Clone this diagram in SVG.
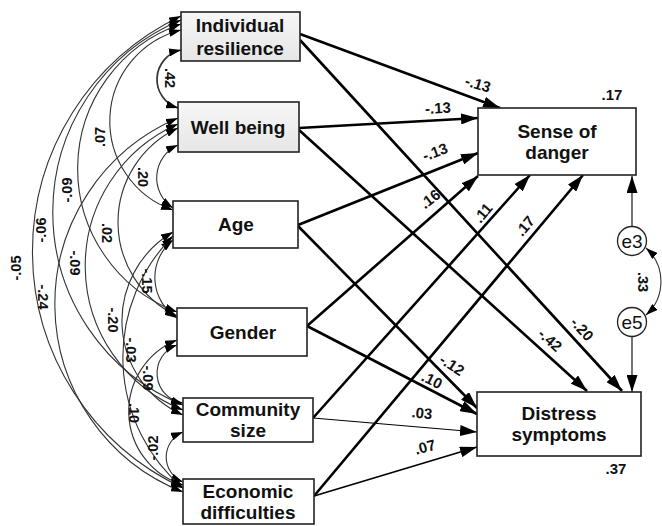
<svg xmlns="http://www.w3.org/2000/svg" width="662" height="526" viewBox="0 0 662 526">
<style>
.box{fill:#fff;stroke:#222;stroke-width:1.6}
.shade{fill:url(#g)}
.nt{font-family:"Liberation Sans",Arial,sans-serif;font-weight:bold;font-size:19px;fill:#111;text-anchor:middle}
.et{font-family:"Liberation Sans",Arial,sans-serif;font-size:19px;fill:#111;text-anchor:middle}
.cov{fill:none;stroke:#333;stroke-width:1.1;marker-start:url(#sa);marker-end:url(#sa)}
.pth{fill:none;stroke:#000;stroke-width:2.6;marker-end:url(#ba)}
.thin{stroke-width:1.1}
.mid{stroke-width:1.7}
.lb{font-family:"Liberation Sans",Arial,sans-serif;font-weight:bold;font-size:15px;fill:#111;text-anchor:middle}
.lc{font-family:"Liberation Sans",Arial,sans-serif;font-weight:bold;font-size:14.5px;fill:#111;text-anchor:middle}
</style>
<defs>
<linearGradient id="g" x1="0" y1="0" x2="0" y2="1"><stop offset="0" stop-color="#f6f6f6"/><stop offset="1" stop-color="#e6e6e6"/></linearGradient>
<marker id="sa" markerUnits="userSpaceOnUse" markerWidth="12" markerHeight="8" refX="12" refY="4" orient="auto-start-reverse"><path d="M0,0 L12,4 L0,8 z" fill="#000"/></marker>
<marker id="ba" markerUnits="userSpaceOnUse" markerWidth="17" markerHeight="11" refX="17" refY="5.5" orient="auto"><path d="M0,0 L17,5.5 L0,11 z" fill="#000"/></marker>
</defs>
<rect width="662" height="526" fill="#fff"/>
<g id="connectors">
<path class="cov" style="stroke-width:1.7" d="M181,50 A30,30 0 0 0 178,108"/>
<path class="cov" d="M178,145 A36,36 0 0 0 173,208"/>
<path class="cov" d="M173,240 A48,48 0 0 0 177,318"/>
<path class="cov" d="M177,345 A30,30 0 0 0 183,403"/>
<path class="cov" d="M183,432 A27,27 0 0 0 183,482"/>
<path class="cov" d="M181,30 A94,94 0 0 0 173,210"/>
<path class="cov" d="M178,128 A104,104 0 0 0 177,316"/>
<path class="cov" d="M173,232 A103,103 0 0 0 183,415"/>
<path class="cov" d="M177,340 A77,77 0 0 0 183,485"/>
<path class="cov" d="M181,24 A153,153 0 0 0 177,312"/>
<path class="cov" d="M178,124 A155,155 0 0 0 183,410"/>
<path class="cov" d="M173,236 A172,172 0 0 0 183,488"/>
<path class="cov" d="M181,20 A208,208 0 0 0 183,405"/>
<path class="cov" d="M178,118 A202,202 0 0 0 183,492"/>
<path class="cov" d="M181,16 A261,261 0 0 0 183,488"/>
<path class="cov" d="M646,248 A45,45 0 0 1 646,315"/>
<path class="pth" d="M300,34 L500,108"/>
<path class="pth" d="M300,40 L622,391"/>
<path class="pth" d="M299,128 L478,118"/>
<path class="pth" d="M299,130 L587,391"/>
<path class="pth" d="M298,225 L478,153"/>
<path class="pth" d="M298,226 L477,408"/>
<path class="pth" d="M307,326 L478,176"/>
<path class="pth" d="M307,326 L477,414"/>
<path class="pth" d="M313,418 L530,175"/>
<path class="pth thin" d="M313,418 L477,432"/>
<path class="pth" d="M314,496 L583,175"/>
<path class="pth mid" d="M314,496 L477,447"/>
<path class="pth thin" d="M632,226 L632,176"/>
<path class="pth thin" d="M632,337 L632,392"/>
</g>
<g id="labels">
<text class="lc" transform="translate(170,78) rotate(90)" dy="0.35em">.42</text>
<text class="lc" transform="translate(143,177) rotate(90)" dy="0.35em">.20</text>
<text class="lc" transform="translate(100,137) rotate(-90)" dy="0.35em">.07</text>
<text class="lc" transform="translate(147,281) rotate(90)" dy="0.35em">-.15</text>
<text class="lc" transform="translate(107,233) rotate(90)" dy="0.35em">.02</text>
<text class="lc" transform="translate(67,190) rotate(-90)" dy="0.35em">-.09</text>
<text class="lc" transform="translate(148,378) rotate(90)" dy="0.35em">-.09</text>
<text class="lc" transform="translate(113,320) rotate(90)" dy="0.35em">-.20</text>
<text class="lc" transform="translate(75,263) rotate(90)" dy="0.35em">-.09</text>
<text class="lc" transform="translate(41,230) rotate(-90)" dy="0.35em">-.06</text>
<text class="lc" transform="translate(153,448) rotate(-90)" dy="0.35em">-.02</text>
<text class="lc" transform="translate(134,413) rotate(90)" dy="0.35em">.10</text>
<text class="lc" transform="translate(131,350) rotate(90)" dy="0.35em">-.03</text>
<text class="lc" transform="translate(43,297) rotate(90)" dy="0.35em">-.24</text>
<text class="lc" transform="translate(16,268) rotate(-90)" dy="0.35em">-.05</text>
<text class="lc" transform="translate(643,282) rotate(90)" dy="0.35em">.33</text>
<text class="lb" transform="translate(478,84) rotate(17)" dy="0.35em">-.13</text>
<text class="lb" transform="translate(438,108) rotate(-3)" dy="0.35em">-.13</text>
<text class="lb" transform="translate(435,152) rotate(-20)" dy="0.35em">-.13</text>
<text class="lb" transform="translate(430,199) rotate(-38)" dy="0.35em">.16</text>
<text class="lb" transform="translate(483,213) rotate(-50)" dy="0.35em">.11</text>
<text class="lb" transform="translate(525,226) rotate(-50)" dy="0.35em">.17</text>
<text class="lb" transform="translate(582,329) rotate(48)" dy="0.35em">-.20</text>
<text class="lb" transform="translate(550,340) rotate(42)" dy="0.35em">-.42</text>
<text class="lb" transform="translate(452,365) rotate(33)" dy="0.35em">-.12</text>
<text class="lb" transform="translate(432,380) rotate(27)" dy="0.35em">.10</text>
<text class="lb" transform="translate(422,413) rotate(5)" dy="0.35em">.03</text>
<text class="lb" transform="translate(425,447) rotate(-15)" dy="0.35em">.07</text>
<text class="lb" x="612" y="100">.17</text>
<text class="lb" x="616" y="474">.37</text>
</g>
<g id="n-resilience"><rect class="box shade" x="181" y="12" width="119" height="49"/><text class="nt" x="240" y="32">Individual</text><text class="nt" x="240" y="55">resilience</text></g>
<g id="n-wellbeing"><rect class="box shade" x="178" y="102" width="121" height="50"/><text class="nt" x="238" y="134">Well being</text></g>
<g id="n-age"><rect class="box" x="173" y="201" width="125" height="47"/><text class="nt" x="236" y="231">Age</text></g>
<g id="n-gender"><rect class="box" x="177" y="308" width="130" height="48"/><text class="nt" x="243" y="339">Gender</text></g>
<g id="n-community"><rect class="box" x="183" y="398" width="130" height="44"/><text class="nt" x="248" y="416">Community</text><text class="nt" x="248" y="437">size</text></g>
<g id="n-economic"><rect class="box" x="183" y="479" width="131" height="45"/><text class="nt" x="248" y="498">Economic</text><text class="nt" x="248" y="519">difficulties</text></g>
<g id="n-danger"><rect class="box" x="478" y="108" width="158" height="67"/><text class="nt" x="557" y="138">Sense of</text><text class="nt" x="557" y="159">danger</text></g>
<g id="n-distress"><rect class="box" x="477" y="392" width="164" height="64"/><text class="nt" x="559" y="420">Distress</text><text class="nt" x="559" y="441">symptoms</text></g>
<g id="n-e3"><circle cx="632" cy="241" r="14.5" fill="#fff" stroke="#222" stroke-width="1.3"/><text class="et" x="632" y="248">e3</text></g>
<g id="n-e5"><circle cx="632" cy="322" r="14.5" fill="#fff" stroke="#222" stroke-width="1.3"/><text class="et" x="632" y="329">e5</text></g>
</svg>
